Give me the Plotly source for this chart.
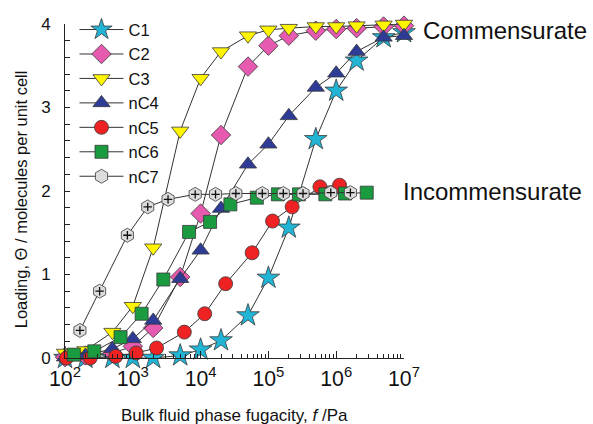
import plotly.graph_objects as go

# Adsorption isotherms: loading vs bulk fluid phase fugacity
f_C1 = [1e2, 2e2, 5e2, 1e3, 2e3, 5e3, 1e4, 2e4, 5e4, 1e5, 2e5, 5e5, 1e6, 2e6, 5e6, 1e7]
q_C1 = [0.0, 0.0, 0.0, 0.0, 0.0, 0.03, 0.10, 0.21, 0.51, 0.96, 1.56, 2.62, 3.20, 3.56, 3.84, 3.90]

f_C2 = [1e2, 2e2, 5e2, 1e3, 2e3, 5e3, 1e4, 2e4, 5e4, 1e5, 2e5, 5e5, 1e6, 2e6, 5e6, 1e7]
q_C2 = [0.01, 0.03, 0.06, 0.14, 0.36, 0.97, 1.73, 2.67, 3.49, 3.74, 3.86, 3.92, 3.94, 3.95, 3.97, 3.98]

f_C3 = [1e2, 2e2, 5e2, 1e3, 2e3, 5e3, 1e4, 2e4, 5e4, 1e5, 2e5, 5e5, 1e6, 2e6, 5e6, 1e7]
q_C3 = [0.06, 0.09, 0.31, 0.62, 1.32, 2.72, 3.35, 3.67, 3.86, 3.93, 3.95, 3.97, 3.97, 3.98, 3.99, 4.00]

f_nC4 = [1e2, 2e2, 5e2, 1e3, 2e3, 5e3, 1e4, 2e4, 5e4, 1e5, 2e5, 5e5, 1e6, 2e6, 5e6, 1e7]
q_nC4 = [0.01, 0.03, 0.11, 0.23, 0.45, 0.95, 1.29, 1.79, 2.32, 2.56, 2.90, 3.24, 3.41, 3.67, 3.84, 3.86]

f_nC5 = [105, 235, 560, 1120, 2240, 5750, 11500, 23400, 57500, 115000, 224000, 575000, 1120000]
q_nC5 = [0.0, 0.0, 0.02, 0.06, 0.12, 0.31, 0.53, 0.89, 1.26, 1.64, 1.81, 2.05, 2.07]

f_nC6 = [135, 270, 660, 1350, 2820, 6760, 13800, 27500, 67600, 138000, 282000, 692000, 1350000, 2820000]
q_nC6 = [0.04, 0.08, 0.25, 0.53, 0.94, 1.51, 1.63, 1.84, 1.92, 1.96, 1.96, 1.96, 1.97, 1.98]

f_nC7 = [166, 324, 832, 1660, 3310, 8320, 16600, 33100, 81300, 166000, 324000, 832000, 1620000]
q_nC7 = [0.33, 0.80, 1.47, 1.81, 1.90, 1.96, 1.96, 1.97, 1.97, 1.97, 1.97, 1.98, 1.98]

series = [
    ("C1", f_C1, q_C1, "star", "#22B4D4", 17),
    ("C2", f_C2, q_C2, "diamond", "#E65BAF", 15),
    ("C3", f_C3, q_C3, "triangle-down", "#FFF500", 15),
    ("nC4", f_nC4, q_nC4, "triangle-up", "#2E3C96", 15),
    ("nC5", f_nC5, q_nC5, "circle", "#EE2222", 14),
    ("nC6", f_nC6, q_nC6, "square", "#1A9B40", 13),
    ("nC7", f_nC7, q_nC7, "hexagon", "#DCDCDC", 14),
]

fig = go.Figure()
for name, fx, qy, sym, col, sz in series:
    fig.add_trace(go.Scatter(
        x=fx, y=qy, name=name, mode="lines+markers",
        line=dict(color="#333333", width=1),
        marker=dict(symbol=sym, color=col, size=sz,
                    line=dict(color="#3a3a3a", width=0.8)),
        cliponaxis=False,
    ))

# small "+" inside the nC7 hexagons
fig.add_trace(go.Scatter(
    x=f_nC7, y=q_nC7, mode="markers", showlegend=False, hoverinfo="skip",
    marker=dict(symbol="cross-thin", size=6, line=dict(color="#111111", width=1.3)),
    cliponaxis=False,
))

font_main = "Liberation Sans, Arial, sans-serif"

fig.update_layout(
    width=593, height=424,
    margin=dict(l=65, r=189, t=20, b=66),
    paper_bgcolor="white", plot_bgcolor="white",
    font=dict(family=font_main, size=17, color="#111111"),
    showlegend=True,
    legend=dict(x=0.028, y=1.035, xanchor="left", yanchor="top",
                bgcolor="rgba(0,0,0,0)", font=dict(size=16.5),
                itemwidth=44, tracegroupgap=0),
    xaxis=dict(type="log", range=[2, 7], dtick=1, exponentformat="power",
               showline=True, linecolor="#222222", linewidth=1,
               ticks="inside", ticklen=7, tickcolor="#222222",
               showgrid=False, zeroline=False,
               tickfont=dict(size=17), ticklabelstandoff=2,
               minor=dict(ticks="inside", ticklen=4, tickcolor="#222222", showgrid=False)),
    yaxis=dict(range=[0, 4], dtick=1,
               showline=True, linecolor="#222222", linewidth=1,
               ticks="inside", ticklen=5, tickcolor="#222222",
               showgrid=False, zeroline=False,
               tickfont=dict(size=17), ticklabelstandoff=10,
               minor=dict(ticks="inside", ticklen=5, dtick=0.2, tickcolor="#222222", showgrid=False)),
    annotations=[
        dict(text="Commensurate", xref="paper", yref="paper", x=1.05, y=0.98,
             xanchor="left", yanchor="middle", showarrow=False, font=dict(size=24)),
        dict(text="Incommensurate", xref="paper", yref="paper", x=0.99, y=0.50,
             xanchor="left", yanchor="middle", showarrow=False, font=dict(size=24)),
        dict(text="Bulk fluid phase fugacity, <i>f</i> /Pa", xref="paper", yref="paper",
             x=0.5, y=-0.138, xanchor="center", yanchor="top", showarrow=False,
             font=dict(size=17)),
        dict(text="Loading, Θ / molecules per unit cell", xref="paper", yref="paper",
             x=-0.13, y=0.475, xanchor="center", yanchor="middle", textangle=-90,
             showarrow=False, font=dict(size=16.5)),
    ],
)

fig.write_html("out.html")
